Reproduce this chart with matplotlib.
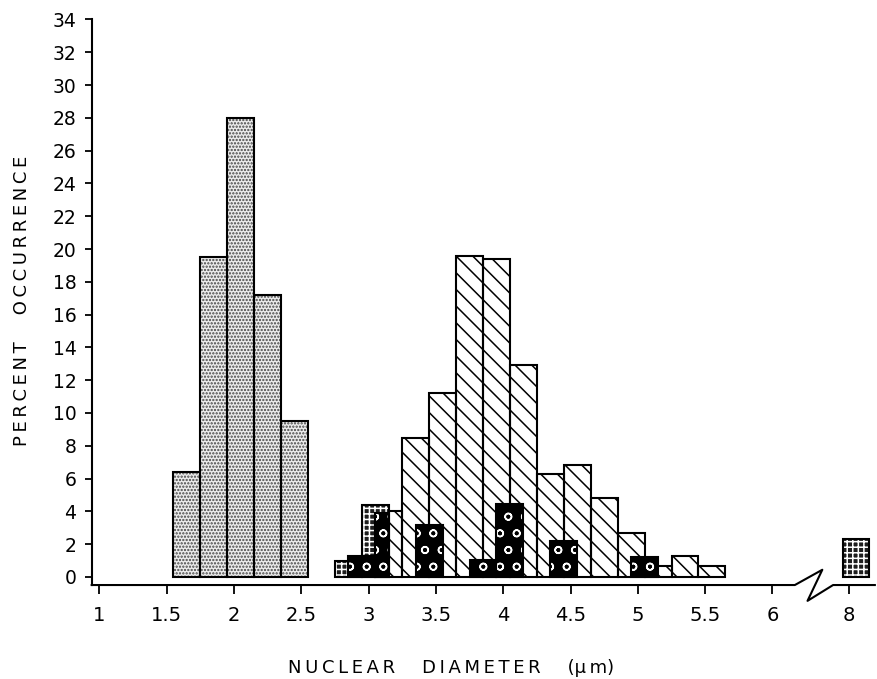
import numpy as np
import matplotlib
matplotlib.use("Agg")
import matplotlib.pyplot as plt

# nuclear diameter (um), bin centres, and percent occurrence
diam_a = [1.65, 1.85, 2.05, 2.25, 2.45]
pct_a = [6.4, 19.5, 28.0, 17.2, 9.5]

diam_b = [3.15, 3.35, 3.55, 3.75, 3.95, 4.15, 4.35, 4.55, 4.75, 4.95, 5.15, 5.35, 5.55]
pct_b = [4.0, 8.5, 11.2, 19.6, 19.4, 12.9, 6.3, 6.8, 4.8, 2.7, 0.7, 1.3, 0.7]

diam_c = [2.85, 3.05, 8.05]
pct_c = [1.0, 4.4, 2.3]

# black bars, given as lower / upper bin edges
lo_d = [2.85, 3.05, 3.35, 3.75, 3.95, 4.35, 4.95]
hi_d = [3.05, 3.15, 3.55, 3.95, 4.15, 4.55, 5.15]
pct_d = [1.25, 3.9, 3.15, 1.05, 4.45, 2.2, 1.2]

xticks = [1, 1.5, 2, 2.5, 3, 3.5, 4, 4.5, 5, 5.5, 6, 8]
xticklabels = ['1', '1.5', '2', '2.5', '3', '3.5', '4', '4.5', '5', '5.5', '6', '8']
yticks = list(range(0, 35, 2))

BIN = 0.2
BREAK_SHIFT = 8 - 6.57  # x axis is broken between 6 and 8


def pos(x):
    x = np.asarray(x, dtype=float)
    return np.where(x > 7, x - BREAK_SHIFT, x)


def hatched_bars(ax, x, h, w, face, hcolor, hatch):
    # fill + hatch first, then a plain black outline on top
    ax.bar(x, h, w, color=face, edgecolor=hcolor, linewidth=0, hatch=hatch, zorder=2)
    ax.bar(x, h, w, fill=False, edgecolor='black', linewidth=1.5, zorder=2)


plt.rcParams['font.family'] = 'DejaVu Sans'
plt.rcParams['hatch.linewidth'] = 1.1

fig = plt.figure(figsize=(8.78, 6.79), dpi=100)
ax = fig.add_axes([0.1044, 0.1384, 0.892, 0.833])

hatched_bars(ax, pos(diam_a), pct_a, BIN, '#ececec', '#444444', '.....')
hatched_bars(ax, pos(diam_b), pct_b, BIN, 'white', 'black', '\\\\')
hatched_bars(ax, pos(diam_c), pct_c, BIN, '#1e1e1e', 'white', '+++')
d_mid = (np.array(lo_d) + np.array(hi_d)) / 2
d_w = np.array(hi_d) - np.array(lo_d)
hatched_bars(ax, d_mid, pct_d, d_w, 'black', 'white', 'o')

ax.set_xlim(0.944, 6.76)
ax.set_ylim(-0.49, 34)

for s in ['top', 'right', 'bottom']:
    ax.spines[s].set_visible(False)
ax.spines['left'].set_linewidth(1.5)

# bottom axis line with the break (zigzag) between 6 and 8
tr = ax.get_xaxis_transform()
ax.plot([0.944, 6.166, 6.37, 6.26, 6.45, 6.76], [0, 0, 0.027, -0.028, 0, 0],
        color='black', lw=1.5, transform=tr, clip_on=False, zorder=3)

ax.set_xticks(pos(xticks))
ax.set_xticklabels(xticklabels)
ax.set_yticks(yticks)
ax.tick_params(axis='x', direction='out', length=6.5, width=1.3, pad=8.5, labelsize=14)
ax.tick_params(axis='y', direction='out', length=5, width=1.3, pad=6, labelsize=13.5)

ts = '\u2009'
fig.text(0.514, 0.0162, ts.join('NUCLEAR') + '\u2003\u2002' + ts.join('DIAMETER')
         + '\u2003\u2002(\u03bc' + ts + 'm)', ha='center', va='center', fontsize=13)
fig.text(0.0245, 0.557, ts.join('PERCENT') + '\u2003\u2002' + ts.join('OCCURRENCE'),
         ha='center', va='center', rotation=90, fontsize=13)

fig.savefig('out.png', dpi=100)
